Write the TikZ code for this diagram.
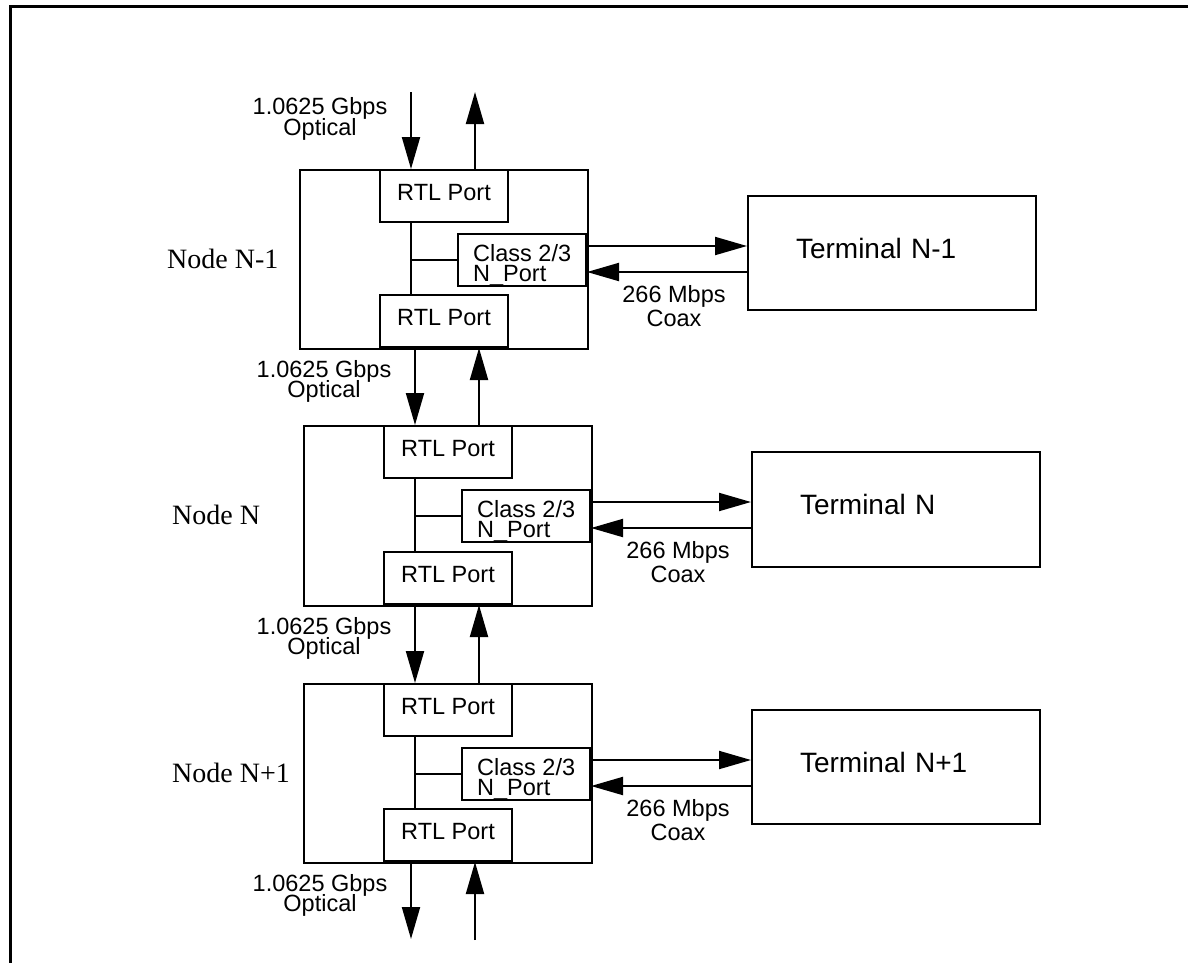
\documentclass[tikz,border=0pt]{standalone}
\usepackage{fontspec}
\setmainfont{Liberation Serif}
\newfontfamily\arialf{Liberation Sans}
\usetikzlibrary{arrows.meta,calc}
\newcommand{\fcrow}[8]{%
  \node[box, minimum width=288pt, minimum height=#4pt, anchor=north west] (n#1) at (#2,#3) {};
  \node[port, anchor=north west] (pt#1) at (#2+80,#3) {RTL Port};
  \node[port, anchor=south west] (pb#1) at (#2+80,#3+#4) {RTL Port};
  \node[cls, anchor=north east] (c#1) at (#2+288,#3+64) {};
  \node[lbl, anchor=base west] (ca#1) at ($(c#1.north west)+(16,28)$) {Class 2/3};
  \node[lbl, anchor=base west] (cb#1) at ($(c#1.north west)+(16,48)$) {N\_Port};
  \coordinate (v#1) at ($(pt#1.south west)+(32,0)$);
  \draw[ln] (v#1) -- (v#1 |- pb#1.north);
  \draw[ln] (c#1.west) -- (c#1.west -| v#1);
  \node[nlbl] (nl#1) at (#6,#3+99) {#5};
  \node[term, minimum height=#8pt, anchor=north west] (t#1) at (#2+448,#3+26) {#7};
  \coordinate (ra#1) at ($(c#1.north east)+(0,13)$);
  \coordinate (la#1) at ($(c#1.north east)+(0,39)$);
  \draw[arr] (ra#1) -- (ra#1 -| t#1.west);
  \draw[arr] (la#1 -| t#1.west) -- (la#1);
  \node[lbl] (cx#1) at (#2+375,#3+133) {266 Mbps};
  \node[lbl] (cy#1) at (#2+375,#3+157) {Coax};
}
\begin{document}
\begin{tikzpicture}[x=1pt,y=-1pt,
  box/.style={draw, line width=2pt, inner sep=0pt},
  port/.style={box, minimum width=128pt, minimum height=52pt, font=\arialf\fontsize{23.5}{21}\selectfont, text height=16.5pt, text depth=8pt},
  cls/.style={box, minimum width=128pt, minimum height=52pt},
  term/.style={box, minimum width=288pt, text width=192pt, align=left, font=\arialf\fontsize{28}{30}\selectfont, text height=20pt, text depth=10pt},
  lbl/.style={inner sep=0pt, font=\arialf\fontsize{23.5}{21}\selectfont, anchor=base},
  nlbl/.style={inner sep=0pt, font=\fontsize{28}{30}\selectfont, anchor=base west},
  ln/.style={line width=2pt},
  arr/.style={line width=2pt, -{Triangle[length=32pt,width=18pt]}},
  frame/.style={line width=3pt}]
\useasboundingbox (0,0) rectangle (1188,962);
\draw[frame] (10,970) -- (10,6) -- (1195,6);

\fcrow{1}{299}{169}{179}{Node N-1}{167}{Terminal N-1}{114}
\fcrow{2}{303}{425}{180}{Node N}{172}{Terminal N}{115}
\fcrow{3}{303}{683}{179}{Node N+1}{172}{Terminal N+1}{114}

% top external links
\coordinate (in1) at ($(pt1.north west)+(32,-77)$);
\coordinate (out1) at ($(pt1.north west)+(96,-77)$);
\draw[arr] (in1) -- (in1 |- pt1.north);
\draw[arr] (out1 |- pt1.north) -- (out1);
\node[lbl] (o1a) at ($(in1)+(-91,22)$) {1.0625 Gbps};
\node[lbl] (o1b) at ($(in1)+(-91,43)$) {Optical};

% links between node rows
\coordinate (d12) at ($(pt2.north west)+(32,0)$);
\coordinate (u12) at ($(pt2.north west)+(96,0)$);
\draw[arr] (d12 |- pb1.south) -- (d12);
\draw[arr] (u12) -- (u12 |- pb1.south);
\node[lbl] (o2a) at ($(d12 |- pb1.south)+(-91,29)$) {1.0625 Gbps};
\node[lbl] (o2b) at ($(d12 |- pb1.south)+(-91,49)$) {Optical};

\coordinate (d23) at ($(pt3.north west)+(32,0)$);
\coordinate (u23) at ($(pt3.north west)+(96,0)$);
\draw[arr] (d23 |- pb2.south) -- (d23);
\draw[arr] (u23) -- (u23 |- pb2.south);
\node[lbl] (o3a) at ($(d23 |- pb2.south)+(-91,29)$) {1.0625 Gbps};
\node[lbl] (o3b) at ($(d23 |- pb2.south)+(-91,49)$) {Optical};

% bottom external links
\coordinate (dout) at ($(pb3.south west)+(28,77)$);
\coordinate (uin) at ($(pb3.south west)+(92,78)$);
\draw[arr] (dout |- pb3.south) -- (dout);
\draw[arr] (uin) -- (uin |- pb3.south);
\node[lbl] (o4a) at ($(dout |- pb3.south)+(-91,29)$) {1.0625 Gbps};
\node[lbl] (o4b) at ($(dout |- pb3.south)+(-91,49)$) {Optical};
\end{tikzpicture}
\end{document}
